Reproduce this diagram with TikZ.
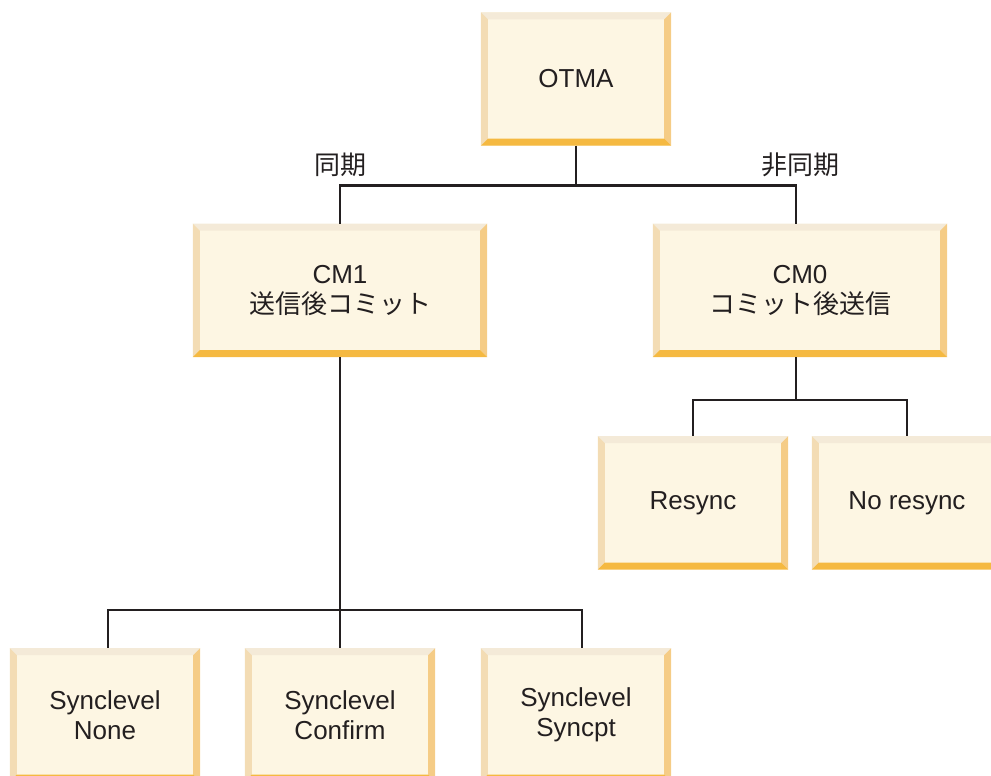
\documentclass[tikz,border=0pt]{standalone}
\usepackage{fontspec}
\setmainfont{Liberation Sans}
\newfontfamily\jpfont{Noto Sans CJK JP}
\usepackage{tikz}
\usetikzlibrary{positioning}
\usepackage{xcolor}
\definecolor{boxfill}{RGB}{253,246,227}
\definecolor{bevtop}{RGB}{244,234,216}
\definecolor{bevleft}{RGB}{243,220,180}
\definecolor{bevright}{RGB}{245,204,134}
\definecolor{bevbot}{RGB}{245,185,65}
\definecolor{inkgray}{RGB}{35,31,32}

\begin{document}
\begin{tikzpicture}[
    node distance=78pt,
    box/.style={rectangle, fill=boxfill, minimum width=190pt, minimum height=133pt, inner sep=0pt, align=center, text=inkgray, font=\fontsize{26}{30}\selectfont},
    widebox/.style={box, minimum width=294pt},
    tag/.style={inner sep=0pt, text=inkgray, font=\fontsize{26}{30}\selectfont\jpfont},
    link/.style={draw=inkgray, line width=2.5pt}
]
\useasboundingbox (0,0) rectangle (991pt,-776pt);
\clip (0,0) rectangle (991pt,-776pt);

% 最上位
\node (otma) [box] at (576pt,-79pt) {OTMA};

% 第二層：同期 / 非同期
\node (cm1) [widebox, below=of otma, xshift=-236pt] {CM1\\{\jpfont 送信後コミット}};
\node (cm0) [widebox, below=of otma, xshift=224pt] {CM0\\{\jpfont コミット後送信}};
\node (syn) [tag, above=47pt of cm1] {同期};
\node (asyn) [tag, above=47pt of cm0] {非同期};

% 第三層：CM0 の分岐
\node (resync) [box, below=79pt of cm0, xshift=-107pt] {Resync};
\node (noresync) [box, below=79pt of cm0, xshift=107pt] {No resync};

% 第四層：CM1 の同期レベル
\node (none) [box, below=291pt of cm1, xshift=-235pt] {Synclevel\\None};
\node (confirm) [box, below=291pt of cm1] {Synclevel\\Confirm};
\node (syncpt) [box, below=291pt of cm1, xshift=236pt] {Synclevel\\Syncpt};

% 立体の縁
\foreach \b in {otma,cm1,cm0,resync,noresync,none,confirm,syncpt}{
  \fill[bevtop] (\b.north west) -- (\b.north east) -- ([shift={(-7pt,-7pt)}]\b.north east) -- ([shift={(7pt,-7pt)}]\b.north west) -- cycle;
  \fill[bevleft] (\b.north west) -- ([shift={(7pt,-7pt)}]\b.north west) -- ([shift={(7pt,7pt)}]\b.south west) -- (\b.south west) -- cycle;
  \fill[bevright] (\b.north east) -- ([shift={(-7pt,-7pt)}]\b.north east) -- ([shift={(-7pt,7pt)}]\b.south east) -- (\b.south east) -- cycle;
  \fill[bevbot] (\b.south west) -- ([shift={(7pt,7pt)}]\b.south west) -- ([shift={(-7pt,7pt)}]\b.south east) -- (\b.south east) -- cycle;
}

% 接続線
\coordinate[below=40pt of otma.south] (fork);
\coordinate[below=43pt of cm0.south, xshift=-4pt] (forkb);
\coordinate[below=253pt of cm1.south] (forkc);
\draw [link] (otma) -- (fork);
\draw [link] (fork) -| (cm1);
\draw [link] (fork) -| ([xshift=-4pt]cm0.north);
\draw [link] ([xshift=-4pt]cm0.south) -- (forkb);
\draw [link] (forkb) -| (resync);
\draw [link] (forkb) -| (noresync);
\draw [link] (cm1) -- (confirm);
\draw [link] (forkc) -| ([xshift=3pt]none.north);
\draw [link] (forkc) -| ([xshift=6pt]syncpt.north);

\end{tikzpicture}
\end{document}
